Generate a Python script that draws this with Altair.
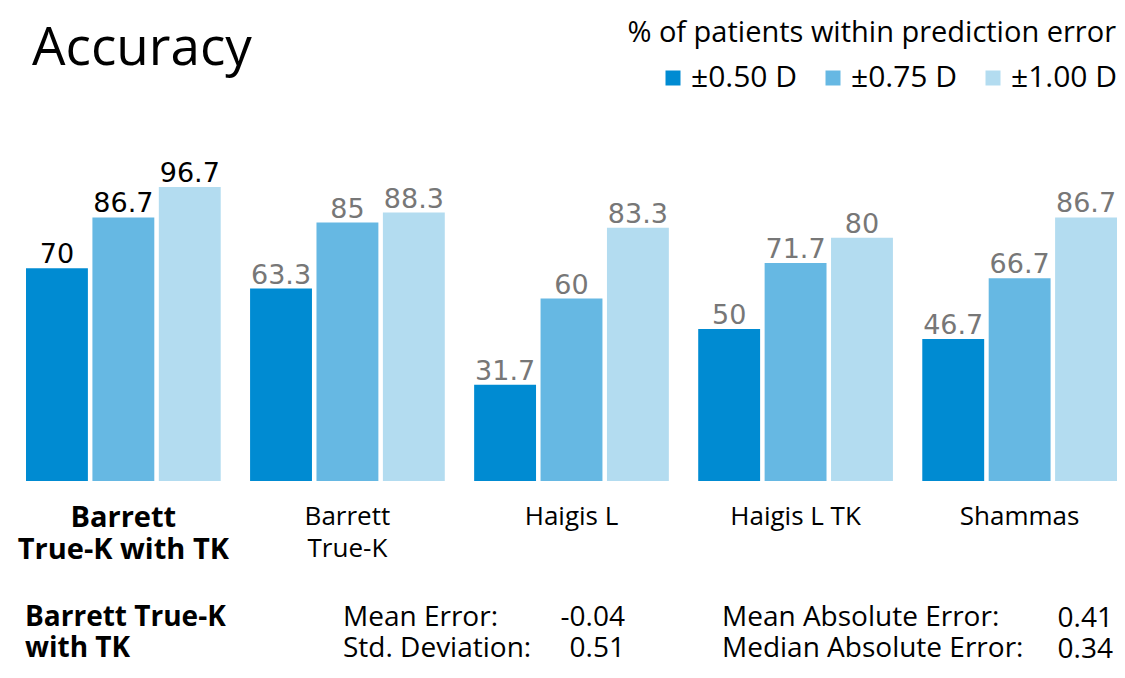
import altair as alt
import pandas as pd

categories = ["Barrett True-K with TK", "Barrett True-K", "Haigis L", "Haigis L TK", "Shammas"]
series = ["±0.50 D", "±0.75 D", "±1.00 D"]
values_050 = [70, 63.3, 31.7, 50, 46.7]
values_075 = [86.7, 85, 60, 71.7, 66.7]
values_100 = [96.7, 88.3, 83.3, 80, 86.7]
colors = ["#008BD2", "#66B8E3", "#B3DCF0"]

stats_group = "Barrett True-K\nwith TK"
stats_left_names = "Mean Error:\nStd. Deviation:"
stats_left_values = "-0.04\n0.51"
stats_right_names = "Mean Absolute Error:\nMedian Absolute Error:"
stats_right_values = "0.41\n0.34"

rows = []
for s, vals in zip(series, [values_050, values_075, values_100]):
    for c, v in zip(categories, vals):
        rows.append({"group": c, "series": s, "value": v})
df = pd.DataFrame(rows)

FONT = "Open Sans"
HIGHLIGHT = "datum.value == 'Barrett True-K with TK'"

label_expr = (
    "datum.value == 'Barrett True-K with TK' ? ['Barrett', 'True-K with TK'] : "
    "datum.value == 'Barrett True-K' ? ['Barrett', 'True-K'] : datum.value"
)

x_enc = alt.X(
    "group:N",
    sort=categories,
    scale=alt.Scale(paddingInner=0.131, paddingOuter=0),
    axis=alt.Axis(
        title=None, domain=False, ticks=False, grid=False, labelAngle=0,
        labelExpr=label_expr, labelFont=FONT, labelLimit=0,
        labelColor="black", labelPadding=22, labelLineHeight=32,
        labelBaseline="top",
        labelFontSize=alt.condition(HIGHLIGHT, alt.value(29), alt.value(26)),
        labelFontWeight=alt.condition(HIGHLIGHT, alt.value("bold"), alt.value("normal")),
    ),
)
xoff = alt.XOffset("series:N", sort=series, scale=alt.Scale(paddingInner=0.068, paddingOuter=0))
y_enc = alt.Y("value:Q", scale=alt.Scale(domain=[0, 100]), axis=None)

base = alt.Chart(df)

bars = base.mark_bar().encode(
    x=x_enc,
    xOffset=xoff,
    y=y_enc,
    color=alt.Color(
        "series:N", sort=series,
        scale=alt.Scale(domain=series, range=colors),
        legend=alt.Legend(
            orient="none", legendX=632, legendY=-114, direction="horizontal",
            title=None, symbolType="square", symbolSize=225, symbolStrokeWidth=0,
            labelFont=FONT, labelFontSize=30, labelColor="black", padding=0,
            labelOffset=3, columnPadding=20, symbolOpacity=1,
        ),
    ),
)

labels = base.mark_text(baseline="alphabetic", dy=-5, font="DejaVu Sans", fontSize=27).encode(
    x=x_enc,
    xOffset=xoff,
    y=y_enc,
    text=alt.Text("value:Q", format="~g"),
    color=alt.condition(alt.datum.group == categories[0], alt.value("black"), alt.value("#777777")),
)


def note(text, x, y, size, weight="normal", align="left", font=FONT, line_height=31):
    return alt.Chart(pd.DataFrame({"t": [text]})).mark_text(
        align=align, baseline="alphabetic", fontSize=size, fontWeight=weight,
        font=font, color="black", lineBreak="\n", lineHeight=line_height,
    ).encode(x=alt.value(x), y=alt.value(y), text="t:N")


notes = [
    note("Accuracy", 6, -112, 53),
    note("% of patients within prediction error", 1090, -135, 29, align="right"),
    note(stats_group, -1, 449, 28, weight="bold"),
    note(stats_left_names, 317, 449, 28),
    note(stats_left_values, 599, 449, 28, align="right"),
    note(stats_right_names, 696, 449, 28),
    note(stats_right_values, 1087, 450, 28, align="right"),
]

chart = alt.layer(bars, labels, *notes).properties(
    width=1091, height=304,
    autosize=alt.AutoSizeParams(type="none"),
    padding={"left": 18, "top": 169, "right": 0, "bottom": 185},
).configure_view(stroke=None)

chart.save("out.html", embed_options={"renderer": "svg", "actions": False})
